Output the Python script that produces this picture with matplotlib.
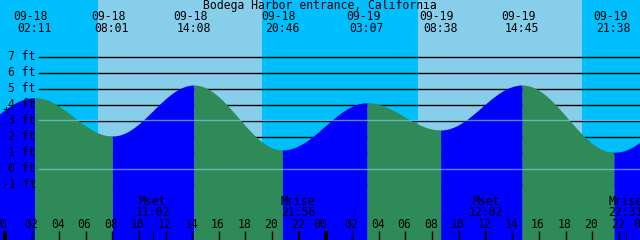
import numpy as np
import matplotlib
matplotlib.use("Agg")
import matplotlib.pyplot as plt

# ---- data ----
title = "Bodega Harbor entrance, California"
# tide extremes: hours since 09-18 00:00 (incl. one before / after the window)
ext_dates = ["09-17", "09-18", "09-18", "09-18", "09-18", "09-19", "09-19", "09-19", "09-19", "09-20"]
ext_times = ["19:25", "02:11", "08:01", "14:08", "20:46", "03:07", "08:38", "14:45", "21:38", "04:00"]
ext_heights = [1.35, 4.46, 2.06, 5.25, 1.19, 4.14, 2.44, 5.25, 1.04, 4.0]
visible = [False, True, True, True, True, True, True, True, True, False]

# sun events (day = light background)
sunrise = ["09-18 06:56", "09-19 06:57"]
sunset = ["09-18 19:13", "09-19 19:15"]

moon_labels = ["Mset", "Mrise", "Mset", "Mrise"]
moon_times = ["09-18 11:02", "09-18 21:56", "09-19 12:02", "09-19 22:31"]

ft_levels = [-1, 0, 1, 2, 3, 4, 5, 6, 7]
mean_level = 3.06
datum_level = 0.0

# ---- helpers ----
day_offset = {"09-17": -24.0, "09-18": 0.0, "09-19": 24.0, "09-20": 48.0}

def to_hours(date, hm):
    h, m = hm.split(":")
    return day_offset[date] + int(h) + int(m) / 60.0

def dt_hours(s):
    d, hm = s.split()
    return to_hours(d, hm)

W, H = 640, 240
PX_PER_H = 640 / 48.0
PX_PER_FT = 16.0
T0 = -5.5 / PX_PER_H
FT_TOP = 7 + 57 / PX_PER_FT

def xpx(p):
    return T0 + p / PX_PER_H

def ypx(p):
    return FT_TOP - p / PX_PER_FT

xmin, xmax = xpx(0), xpx(W)
ymin, ymax = ypx(H), ypx(0)

fig = plt.figure(figsize=(6.4, 2.4), dpi=100)
ax = fig.add_axes([0, 0, 1, 1])
ax.set_xlim(xmin, xmax)
ax.set_ylim(ymin, ymax)
ax.axis("off")

DAY = "#87CEEB"
NIGHT = "#00BFFF"
RISE = "#0000FF"
FALL = "#2E8B57"
FONT = dict(family="DejaVu Sans Mono", fontsize=8.3, color="black")

# background
ax.axvspan(xmin, xmax, color=NIGHT, lw=0, zorder=0)
for sr, ss in zip(sunrise, sunset):
    ax.axvspan(dt_hours(sr), dt_hours(ss), color=DAY, lw=0, zorder=0.5)

# foot lines
line_start = 39 / W
for lv in ft_levels:
    ax.axhline(lv, xmin=line_start, xmax=1, color="black", lw=1.0, zorder=1)

# tide curve (half-cosine between extremes)
et = [to_hours(d, t) for d, t in zip(ext_dates, ext_times)]
for i in range(len(et) - 1):
    t1, t2 = et[i], et[i + 1]
    h1, h2 = ext_heights[i], ext_heights[i + 1]
    tt = np.linspace(t1, t2, 200)
    hh = h1 + (h2 - h1) * (1 - np.cos(np.pi * (tt - t1) / (t2 - t1))) / 2
    col = RISE if h2 > h1 else FALL
    ax.fill_between(tt, ymin - 1, hh, color=col, lw=0, zorder=2)

# mean and datum lines
for lv in (mean_level, datum_level):
    ax.axhline(lv, xmin=line_start, xmax=1, color="#87CEEB", alpha=0.65, lw=1.0, zorder=3)

# y labels
for lv in ft_levels:
    ax.text(xpx(36), lv, f"{lv} ft", ha="right", va="center", zorder=5, **FONT)

# marker
ax.text(xpx(5.5), ypx(110.5), "+", ha="center", va="center", zorder=5, **FONT)

# title
ax.text(xpx(320), ypx(5.5), title, ha="center", va="center", zorder=5, **FONT)

# extreme labels
for d, t, x, v in zip(ext_dates, ext_times, et, visible):
    if not v:
        continue
    ax.text(x - 4 / PX_PER_H, ypx(17), d, ha="center", va="center", zorder=5, **FONT)
    ax.text(x - 0.5 / PX_PER_H, ypx(28.5), t, ha="center", va="center", zorder=5, **FONT)

# hour ticks and labels
tick_top = ypx(231)
for hr in range(0, 49, 2):
    midnight = hr % 24 == 0
    lw = 3.0 if midnight else 1.0
    ax.plot([hr, hr], [ymin, tick_top], color="black", lw=lw, solid_capstyle="butt", zorder=4)
    off = 5.5 if midnight else 1.0
    ax.text(hr - off / PX_PER_H, ypx(225), f"{hr % 24:02d}", ha="center", va="center", zorder=5, **FONT)

# moon events
for lab, ts in zip(moon_labels, moon_times):
    x = dt_hours(ts)
    ax.plot([x, x], [ymin, tick_top], color="black", lw=0.8, solid_capstyle="butt", zorder=4)
    ax.text(x, ypx(201.5), lab, ha="center", va="center", zorder=5, **FONT)
    ax.text(x, ypx(213), ts.split()[1], ha="center", va="center", zorder=5, **FONT)

fig.savefig("out.png", dpi=100)
